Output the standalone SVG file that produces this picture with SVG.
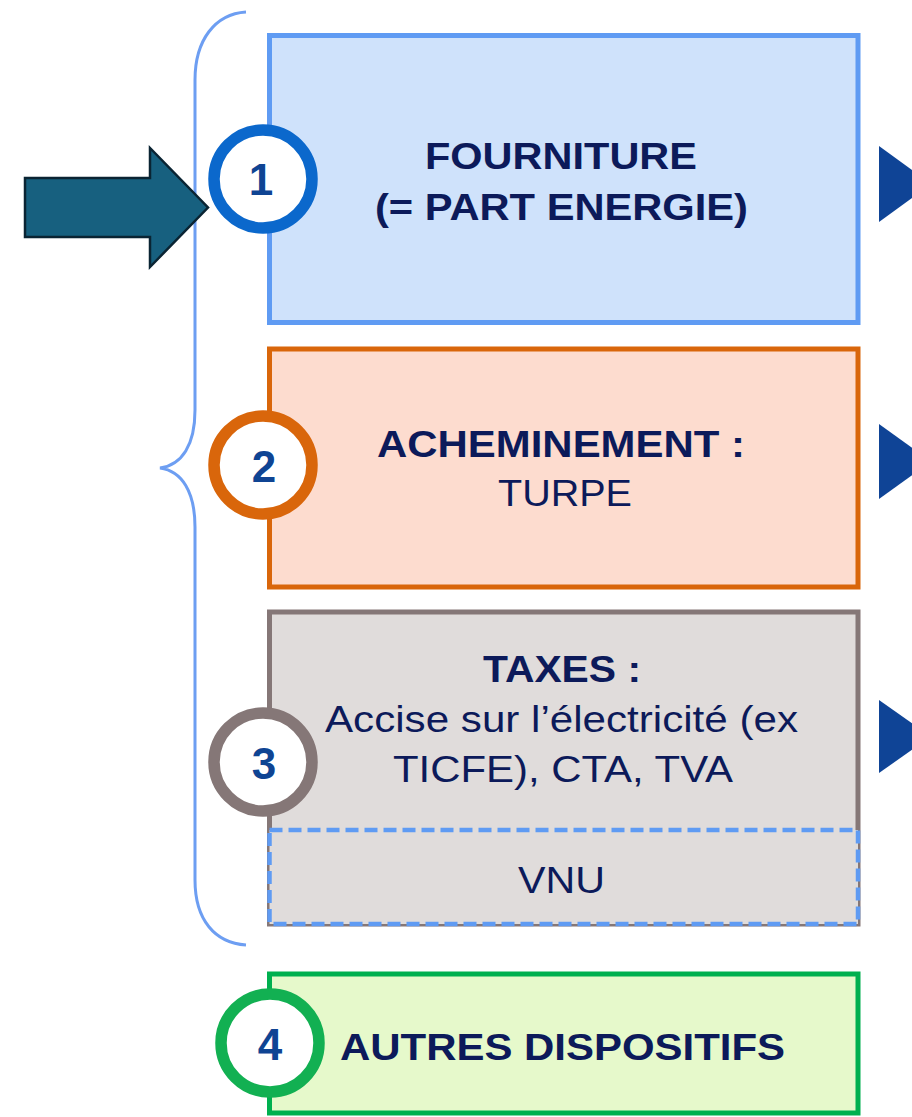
<svg xmlns="http://www.w3.org/2000/svg" width="912" height="1117" viewBox="0 0 912 1117">
<style>
text{font-family:"Liberation Sans",Arial,sans-serif;fill:#0c1a5a}
.b{font-weight:bold;font-size:37px}
.r{font-size:37px}
.d{font-weight:bold;font-size:44px;fill:#0f4493;text-anchor:middle}
.box{stroke-width:5}
.c{fill:#fff;stroke-width:11.5}
.tri{fill:#0f4496}
</style>
<rect width="912" height="1117" fill="#fff"/>
<g id="connectors">
<path d="M246,12 C215,14 195,40 195,80 L195,410 C195,445 182,465 160,468 C182,471 195,492 195,527 L195,880 C195,920 215,943 246,945" fill="none" stroke="#6d9ef2" stroke-width="3"/>
<polygon points="25,178 150,178 150,148 208,207.5 150,267 150,237 25,237" fill="#17607f" stroke="#0a2433" stroke-width="2.5"/>
<polygon class="tri" points="879,146 931,184 879,222"/>
<polygon class="tri" points="879,424 931,461.5 879,499"/>
<polygon class="tri" points="879,700 931,736.5 879,773"/>
</g>
<g id="node1">
<rect class="box" x="269.5" y="35.5" width="588.5" height="287" fill="#cfe2fb" stroke="#5f9bf3"/>
<text class="b" x="561" y="169" text-anchor="middle" textLength="272" lengthAdjust="spacingAndGlyphs">FOURNITURE</text>
<text class="b" x="561.5" y="220" text-anchor="middle" textLength="373" lengthAdjust="spacingAndGlyphs">(= PART ENERGIE)</text>
<circle class="c" cx="263" cy="179" r="49" stroke="#0b68cc"/>
<text class="d" x="261" y="195">1</text>
</g>
<g id="node2">
<rect class="box" x="269.5" y="349" width="588.5" height="238" fill="#fddccf" stroke="#d9660b"/>
<text class="b" x="561" y="457" text-anchor="middle" textLength="368" lengthAdjust="spacingAndGlyphs">ACHEMINEMENT :</text>
<text class="r" x="565" y="506" text-anchor="middle" textLength="134" lengthAdjust="spacingAndGlyphs">TURPE</text>
<circle class="c" cx="263" cy="465" r="49" stroke="#d9660b"/>
<text class="d" x="264" y="482">2</text>
</g>
<g id="node3">
<rect class="box" x="269.5" y="612" width="588.5" height="312" fill="#e0dcdb" stroke="#857777"/>
<rect x="269.5" y="830" width="588.5" height="94" fill="#e0dcdb" stroke="#5f9bf3" stroke-width="4.5" stroke-dasharray="13 6"/>
<text class="b" x="562" y="682" text-anchor="middle" textLength="158" lengthAdjust="spacingAndGlyphs">TAXES :</text>
<text class="r" x="561.5" y="732" text-anchor="middle" textLength="473" lengthAdjust="spacingAndGlyphs">Accise sur l’électricité (ex</text>
<text class="r" x="563" y="782" text-anchor="middle" textLength="340" lengthAdjust="spacingAndGlyphs">TICFE), CTA, TVA</text>
<text class="r" x="561.5" y="893" text-anchor="middle" textLength="87" lengthAdjust="spacingAndGlyphs">VNU</text>
<circle class="c" cx="263" cy="762" r="49" stroke="#857777"/>
<text class="d" x="264" y="779">3</text>
</g>
<g id="node4">
<rect class="box" x="269.5" y="974" width="588.5" height="139" fill="#e6f9cb" stroke="#00b04f"/>
<text class="b" x="340" y="1060" font-size="40" textLength="445" lengthAdjust="spacingAndGlyphs">AUTRES DISPOSITIFS</text>
<circle class="c" cx="270" cy="1043" r="49" stroke="#12b052"/>
<text class="d" x="270" y="1060">4</text>
</g>
</svg>
